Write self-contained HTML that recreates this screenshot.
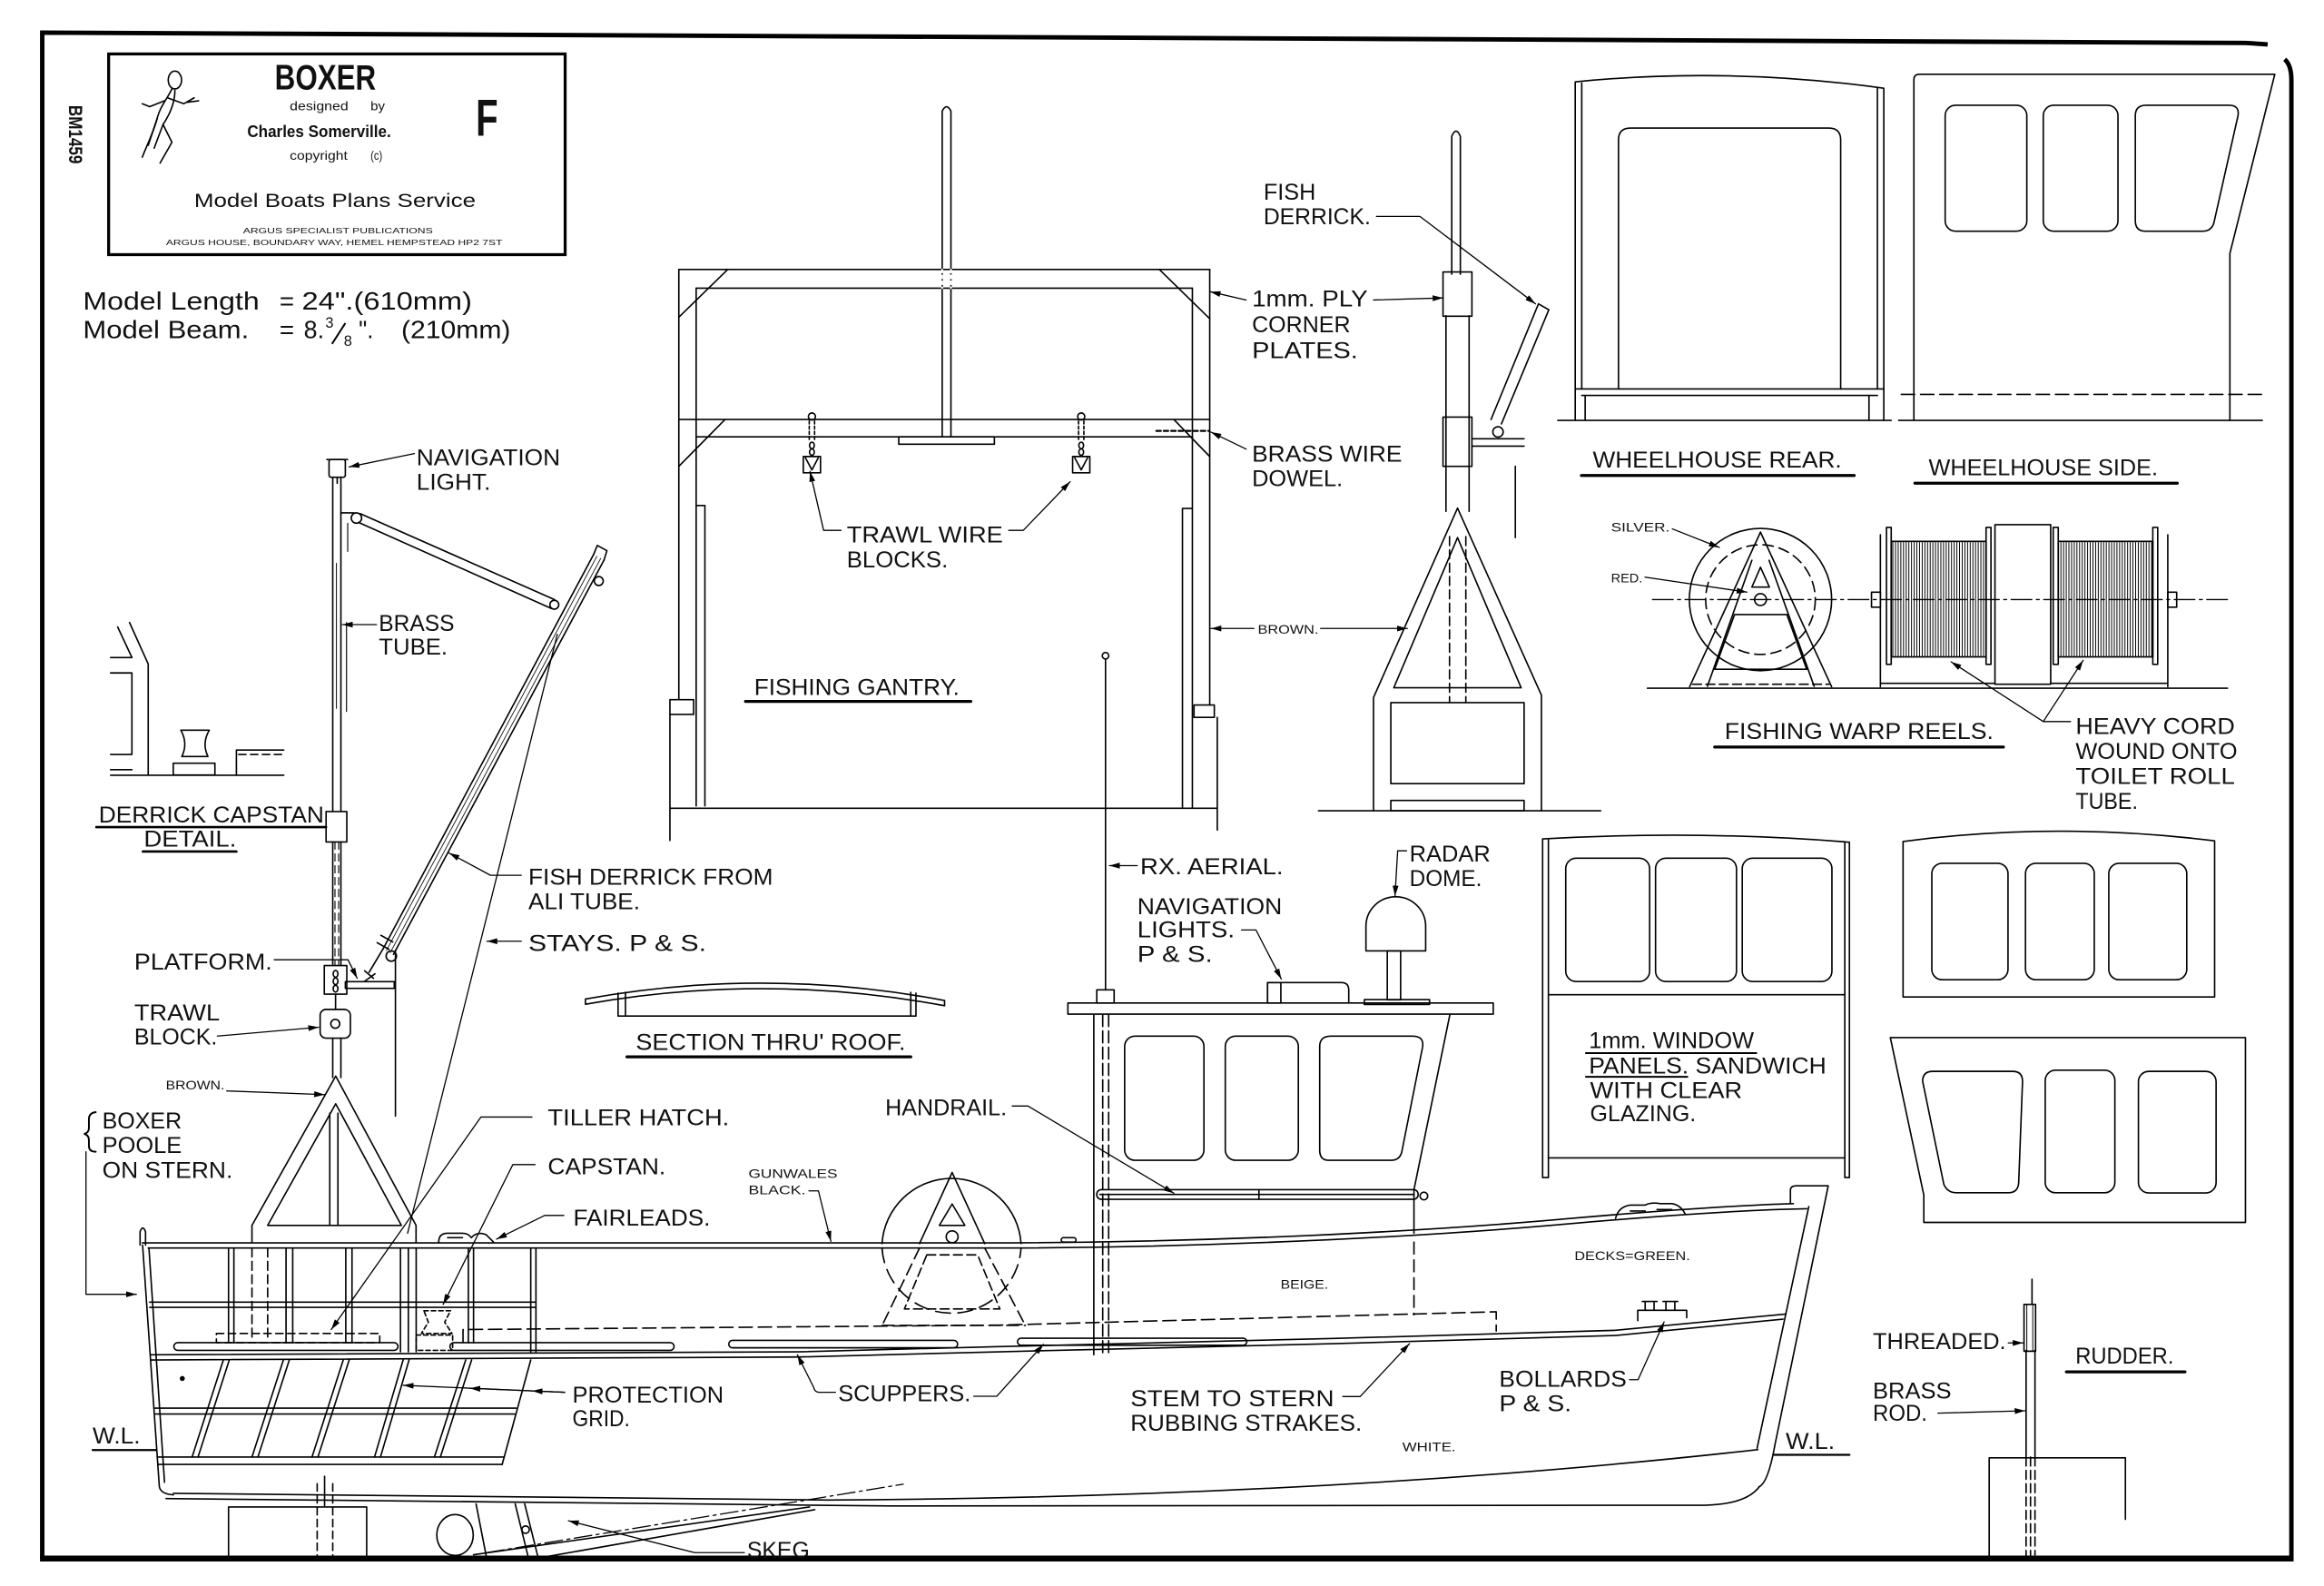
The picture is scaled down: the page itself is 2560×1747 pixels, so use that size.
<!DOCTYPE html>
<html><head><meta charset="utf-8">
<style>
html,body{margin:0;padding:0;background:#fff;}
svg{display:block;}
text{font-family:"Liberation Sans",sans-serif;fill:#111;}
</style></head><body>
<svg width="2560" height="1747" viewBox="0 0 1568 1070" preserveAspectRatio="none" xmlns="http://www.w3.org/2000/svg">
<defs>
<marker id="a" markerUnits="userSpaceOnUse" markerWidth="7" markerHeight="4" viewBox="0 0 7 4" refX="7" refY="2" orient="auto"><path d="M0,0L7,2L0,4z" fill="#000"/></marker>
<pattern id="h" width="1.8" height="10" patternUnits="userSpaceOnUse"><line x1="0.9" y1="0" x2="0.9" y2="10" stroke="#000" stroke-width="0.6"/></pattern>
</defs>
<rect width="1568" height="1070" fill="#fff"/>

<!-- FRAME -->
<g fill="none" stroke="#000">
<path d="M28.5,1051.5 V22 L1515,29 Q1524,29.5 1530,30" stroke-width="3"/>
<path d="M1541.5,40 Q1546,44 1546,54 V1051.5" stroke-width="3"/>
<path d="M27,1051.5 H1547.5" stroke-width="4"/>
<rect x="73.3" y="36.4" width="308" height="135.4" stroke-width="2"/>
</g>

<!-- TITLE BLOCK -->
<g fill="none" stroke="#000" stroke-width="1" stroke-linecap="round">
<ellipse cx="118" cy="54" rx="4.5" ry="6"/>
<path d="M116,60 C112,68 108,72 106,80 C104,88 100,96 96,106"/>
<path d="M118,61 C118,70 114,78 110,84 L116,96 L108,110"/>
<path d="M113,66 L124,70 L131,66 M126,69 L134,68"/>
<path d="M111,68 L101,72 L96,70"/>
<path d="M106,80 L100,98 M110,84 L104,100"/>
</g>
<text x="185.4" y="60.4" font-size="24" font-weight="bold" textLength="68.3" lengthAdjust="spacingAndGlyphs">BOXER</text>
<text x="195.5" y="74.5" font-size="8.5" fill="#333" textLength="39.5" lengthAdjust="spacingAndGlyphs">designed</text>
<text x="250" y="74.5" font-size="8.5" fill="#333" textLength="9.7" lengthAdjust="spacingAndGlyphs">by</text>
<text x="166.8" y="92.6" font-size="11.5" font-weight="bold" textLength="97" lengthAdjust="spacingAndGlyphs">Charles Somerville.</text>
<text x="321" y="91.6" font-size="35" font-weight="bold" textLength="15" lengthAdjust="spacingAndGlyphs">F</text>
<text x="195.5" y="107.8" font-size="8.5" fill="#333" textLength="39" lengthAdjust="spacingAndGlyphs">copyright</text>
<text x="250" y="107.8" font-size="8.5" fill="#333" textLength="8" lengthAdjust="spacingAndGlyphs">(c)</text>
<text x="131" y="139.5" font-size="13" fill="#333" textLength="190" lengthAdjust="spacingAndGlyphs">Model Boats Plans Service</text>
<text x="164" y="157.5" font-size="5" fill="#555" textLength="128" lengthAdjust="spacingAndGlyphs">ARGUS SPECIALIST PUBLICATIONS</text>
<text x="112" y="165.5" font-size="5" fill="#555" textLength="227" lengthAdjust="spacingAndGlyphs">ARGUS HOUSE, BOUNDARY WAY, HEMEL HEMPSTEAD HP2 7ST</text>
<text transform="translate(46.5,71) rotate(90)" font-size="13" font-weight="bold" textLength="39.5" lengthAdjust="spacingAndGlyphs">BM1459</text>

<g font-size="17">
<text x="56" y="209" textLength="119" lengthAdjust="spacingAndGlyphs">Model Length</text>
<text x="188.6" y="209">=</text>
<text x="203.7" y="209" textLength="114.8" lengthAdjust="spacingAndGlyphs">24".(610mm)</text>
<text x="56" y="228" textLength="112" lengthAdjust="spacingAndGlyphs">Model Beam.</text>
<text x="188.6" y="228">=</text>
<text x="205" y="228" textLength="13.7" lengthAdjust="spacingAndGlyphs">8.</text>
<text x="219.5" y="221" font-size="10">3</text>
<text x="232" y="233.5" font-size="10">8</text>
<text x="242" y="228" textLength="10" lengthAdjust="spacingAndGlyphs">".</text>
<text x="270.7" y="228" textLength="73.8" lengthAdjust="spacingAndGlyphs">(210mm)</text>
</g>
<path d="M224,232 L233,218" stroke="#000" stroke-width="1.2"/>

<!-- MAIN DRAWING LINES -->
<g fill="none" stroke="#000" stroke-width="1" stroke-linecap="round" stroke-linejoin="round">

<!-- FISHING GANTRY -->
<path d="M458,181.8 H816.2 M469.7,194.4 H804.5"/>
<path d="M458,181.8 V472 M469.7,194.4 V543.7 M475.6,341 V543.7 M469.7,341 H475.6"/>
<path d="M458,283 H816.2 M469.7,294.7 H804.5"/>
<path d="M491,181.8 L458,214 M782.2,181.8 L816.2,215 M489.2,283 L458,314.6 M792,283 L816.2,308"/>
<path d="M816.2,181.8 V475.6 M804.5,194.4 V545 M797.8,343 V545 M797.8,343 H804.5"/>
<rect x="452" y="472" width="16" height="10"/>
<rect x="805.6" y="475.6" width="13.7" height="8.4"/>
<path d="M452,482 V567 M821.3,484 V560 M452,545.3 H821.3"/>
<path d="M635.7,294.7 V75 Q638.6,69 641.6,75 V294.7"/>
<path d="M635.7,181.8 V194.4 M641.6,181.8 V194.4" stroke-dasharray="2 2" stroke="#fff" stroke-width="1.2"/>
<rect x="606.4" y="294.7" width="64.5" height="5"/>
<!-- trawl blocks -->
<g>
<circle cx="547.8" cy="281" r="2.4"/>
<path d="M546,284 V297 M549.6,284 V297" stroke-dasharray="2 1.5"/>
<ellipse cx="547.8" cy="300.5" rx="1.6" ry="2.2"/><ellipse cx="547.8" cy="305" rx="1.6" ry="2.2"/>
<rect x="542" y="308" width="11.6" height="11"/>
<path d="M543.5,309 L547.8,317 L552,309"/>
<circle cx="729.5" cy="281" r="2.4"/>
<path d="M727.7,284 V297 M731.3,284 V297" stroke-dasharray="2 1.5"/>
<ellipse cx="729.5" cy="300.5" rx="1.6" ry="2.2"/><ellipse cx="729.5" cy="305" rx="1.6" ry="2.2"/>
<rect x="723.7" y="308" width="11.6" height="11"/>
<path d="M725.2,309 L729.5,317 L733.7,309"/>
</g>
<path d="M567.4,357.8 H555.7 L546.5,318" stroke-width="0.8" marker-end="url(#a)"/>
<path d="M680.6,357.8 H690.4 L722,325" stroke-width="0.8" marker-end="url(#a)"/>
<path d="M840.8,202.4 L816.5,196.8" stroke-width="0.8" marker-end="url(#a)"/>
<path d="M926.7,202.4 L973.6,201" stroke-width="0.8" marker-end="url(#a)"/>
<path d="M840.8,303 L817,291.5" stroke-width="0.8" marker-end="url(#a)"/>
<path d="M780.2,290.7 H815.4" stroke-dasharray="3 2" stroke-width="1.4"/>
<path d="M846,424 H817" stroke-width="0.8" marker-end="url(#a)"/>
<path d="M891,424 H949.5" stroke-width="0.8" marker-end="url(#a)"/>
<path d="M503,473.2 H655" stroke-width="2"/>

<!-- GANTRY SIDE VIEW -->
<path d="M979.5,185 V92 Q982.4,85 985.3,92 V185"/>
<path d="M975.6,213 V345 M991.2,213 V345"/>
<path d="M978,362 V474 M989,362 V474" stroke-dasharray="6 3"/>
<rect x="973.6" y="183.5" width="19.5" height="29.8"/>
<rect x="973.6" y="281.4" width="19.5" height="33.2"/>
<path d="M993,296 H1028.3 M993,301 H1028.3"/>
<circle cx="1010.7" cy="291.4" r="3.5"/>
<path d="M1038,205 L1006,283 M1045,209 L1013,286 M1038,205 L1045,209"/>
<path d="M1022.4,314.6 V362.7"/>
<path d="M926.7,547 V470.6 L983.4,342.8 L1040,469 V547"/>
<path d="M940.4,464 L983.4,362.7 L1026.3,464 Z"/>
<rect x="938.4" y="474" width="89.9" height="54.7"/>
<rect x="938.4" y="540" width="89.9" height="7"/>
<path d="M889.6,547 H1080"/>
<path d="M928.7,146 H958 L1036,205" stroke-width="0.8" marker-end="url(#a)"/>

<!-- WHEELHOUSE REAR -->
<path d="M1062.8,283.6 V55.2 Q1165,45 1271,59.5 V283.6"/>
<path d="M1067.2,262.4 V56 M1266.7,262.4 V59"/>
<path d="M1092,262.4 V94.4 Q1092,86.4 1100,86.4 H1233.9 Q1241.9,86.4 1241.9,94.4 V262.4"/>
<path d="M1062.8,262.4 H1271 M1067.2,266.8 H1266.7"/>
<path d="M1051,283.6 H1276 M1069.5,266.8 V283.6 M1261,266.8 V283.6"/>
<path d="M1067,320.8 H1251" stroke-width="2"/>

<!-- WHEELHOUSE SIDE -->
<path d="M1291.3,283.6 V54 Q1291.3,50.1 1295,50.1 H1534.8 L1504.5,171 V283.6"/>
<path d="M1281,283.6 H1526.4"/>
<path d="M1282.8,266.1 H1526.4" stroke-dasharray="9 4"/>
<rect x="1312.4" y="71" width="55.1" height="85" rx="7"/>
<rect x="1378.6" y="71" width="50.4" height="85" rx="7"/>
<path d="M1448,71 H1504 Q1511,71 1510,78 L1494,149 Q1492.8,156 1486,156 H1447.7 Q1440.7,156 1440.7,149 V78 Q1440.7,71 1448,71 Z"/>
<path d="M1292,326 H1469" stroke-width="2"/>

<!-- FISHING WARP REELS -->
<circle cx="1187.8" cy="404.5" r="48"/>
<circle cx="1187.8" cy="404.5" r="37" stroke-dasharray="7 4"/>
<path d="M1140,463.3 L1187.8,359 L1235.8,463.3"/>
<path d="M1152,463 L1182,378 M1224,463 L1193.6,378"/>
<path d="M1187.8,382.7 L1182,396.1 H1193.8 Z"/>
<circle cx="1187.8" cy="404.5" r="4"/>
<path d="M1170.3,414.6 H1205.6 L1219,451.5 H1156.9 Z"/>
<path d="M1142,461.6 H1234" stroke-dasharray="6 3"/>
<path d="M1114.9,404.5 H1504.5" stroke-width="0.8" stroke-dasharray="14 3 2 3"/>
<path d="M1111.5,464.3 H1502.9"/>
<rect x="1276" y="365.2" width="64" height="78" fill="url(#h)"/>
<rect x="1388.7" y="365.2" width="63.8" height="78" fill="url(#h)"/>
<rect x="1272.8" y="355.8" width="3.2" height="92.4"/>
<rect x="1340" y="355.8" width="3.3" height="92.4"/>
<rect x="1385.3" y="355.8" width="3.4" height="92.4"/>
<rect x="1452.5" y="355.8" width="3.3" height="92.4"/>
<rect x="1346" y="354" width="37.6" height="107.6"/>
<path d="M1268.7,360.8 V463.3 M1462.6,360.8 V463.3 M1268.7,461 H1346 M1383.6,461 H1462.6"/>
<rect x="1262.7" y="399.5" width="6" height="10.1"/>
<rect x="1462.6" y="399.5" width="6" height="10.1"/>
<path d="M1128.3,356.8 L1160,369.3" stroke-width="0.8" marker-end="url(#a)"/>
<path d="M1109.9,389.4 L1178.7,399.5" stroke-width="0.8" marker-end="url(#a)"/>
<path d="M1397,486.8 H1378.6 L1316.4,446.5" stroke-width="0.8" marker-end="url(#a)"/>
<path d="M1378.6,486.8 L1405.5,445.5" stroke-width="0.8" marker-end="url(#a)"/>
<path d="M1156.9,504 H1351.7" stroke-width="2"/>

<!-- PANEL A -->
<path d="M1040.8,794.4 V566 Q1146,560 1247.8,568.2 V794.4"/>
<path d="M1044.7,794.4 V566.5 M1244.7,794.4 V568"/>
<path d="M1044.7,671.1 H1244.7 M1044.7,781.2 H1244.7 M1040.8,794.4 H1044.7 M1244.7,794.4 H1247.8"/>
<rect x="1056.4" y="579" width="56.6" height="83.2" rx="7"/>
<rect x="1117" y="579" width="54.6" height="83.2" rx="7"/>
<rect x="1175.5" y="579" width="60.5" height="83.2" rx="7"/>
<path d="M1070,710.5 H1185 M1070,726.5 H1138.5" stroke-width="1.2"/>

<!-- PANEL B -->
<path d="M1284,672.6 V567.7 Q1389,554 1494.2,567.3 V672.6 Z"/>
<rect x="1303.4" y="582.4" width="51.4" height="78.6" rx="7"/>
<rect x="1366.6" y="582.4" width="46.4" height="78.6" rx="7"/>
<rect x="1422.8" y="582.4" width="52.6" height="78.6" rx="7"/>

<!-- PANEL C -->
<path d="M1275.4,700 H1515 V824.7 H1298 V806.3 Z"/>
<path d="M1304,722.8 H1358 Q1364.6,722.8 1364.6,729.5 L1362,798 Q1361.5,804.7 1355,804.7 H1320 Q1314,804.7 1311.5,799 L1297.2,729.5 Q1297.2,722.8 1304,722.8 Z"/>
<rect x="1379.9" y="722" width="47" height="82.7" rx="7"/>
<rect x="1442.8" y="722.8" width="52.4" height="82" rx="7"/>

<!-- RUDDER -->
<path d="M1371,863 V880"/>
<rect x="1365.6" y="880" width="7.8" height="31.6"/>
<path d="M1367.5,880 V911 M1371.5,880 V911" stroke-width="0.6"/>
<path d="M1367,911 V983 M1373,911 V983"/>
<path d="M1367,983 V1050 M1373,983 V1050 M1370,983 V1050" stroke-dasharray="6 3"/>
<path d="M1342.1,1050 V983.5 H1434 V1025"/>
<path d="M1355,906 H1365" stroke-width="0.8" marker-end="url(#a)"/>
<path d="M1307.5,953.4 L1366.3,951.8" stroke-width="0.8" marker-end="url(#a)"/>
<path d="M1394.2,925.5 H1474.2" stroke-width="2"/>

<!-- DERRICK CAPSTAN DETAIL -->
<path d="M79.4,423 L89,443.6 M87.4,420 L100,448 V522.3"/>
<path d="M74.6,443.6 H89 M74.6,454 H89 V509 H74.6 M74.6,519.3 H89"/>
<path d="M74.6,523 H191.5"/>
<path d="M122,492.6 H141.2 Q136,501.5 140.3,510.4 H122.7 Q127,501.5 122,492.6 Z"/>
<rect x="116.9" y="514.9" width="28.1" height="8"/>
<path d="M159.5,523 V506 H191.5"/>
<path d="M161,509 H191.5" stroke-dasharray="5 3"/>
<path d="M65,558 H220" stroke-width="1.6"/>
<path d="M96.4,574.5 H159.5" stroke-width="1.6"/>

<!-- MAST & DERRICK -->
<rect x="222" y="310" width="11" height="12" rx="1.5"/>
<path d="M220.5,310 H234.5 M227.5,322 V326"/>
<path d="M224.5,322 V547.5 M230,322 V547.5"/>
<path d="M227,380 V478" stroke-width="0.6"/>
<path d="M234.6,353 V372 M233.8,420 V480" stroke-width="0.7"/>
<path d="M230,346 H239"/>
<circle cx="240.5" cy="349.5" r="3.5"/>
<path d="M243,346.5 L374,404.5 M242,352.5 L372,410.5"/>
<circle cx="374" cy="408" r="3"/>
<rect x="220" y="547.5" width="14" height="20.5"/>
<path d="M224.5,568 V651.4 M230,568 V651.4"/>
<path d="M226,568 V651 M228.5,568 V651" stroke-dasharray="5 3" stroke-width="0.7"/>
<rect x="218.8" y="651.4" width="15.2" height="19.3"/>
<ellipse cx="226.4" cy="657" rx="1.6" ry="2.3"/><ellipse cx="226.4" cy="662" rx="1.6" ry="2.3"/><ellipse cx="226.4" cy="667" rx="1.6" ry="2.3"/>
<path d="M226.4,670.7 V681"/>
<rect x="216" y="681" width="20.4" height="19.4" rx="4"/>
<circle cx="226.2" cy="690.7" r="3"/>
<path d="M224.5,700.4 V727 M230,700.4 V727"/>
<rect x="233" y="662.3" width="33" height="4.5"/>
<path d="M266.8,641 V753"/>
<path d="M407.5,377.9 L265.5,643.9 M400.5,374.1 L258.5,640.1"/>
<path d="M405.3,376.7 L263.3,642.7 M402.7,375.3 L260.7,641.3" stroke-width="0.5"/>
<path d="M400.5,374.1 L403,368 L409.5,371.5 L407.5,377.9"/>
<circle cx="404" cy="392" r="3"/>
<path d="M257,631 L265,635.5 M254.5,636 L262.5,640.5"/>
<circle cx="264" cy="645" r="3.5"/>
<path d="M258.5,640.1 L249,656 M252,660 L246,655 M246,662 L253,657"/>
<path d="M376,428 L275,832" stroke-width="0.8"/>
<path d="M279.6,306 L235.5,315" stroke-width="0.8" marker-end="url(#a)"/>
<path d="M254,421.4 H231" stroke-width="0.8" marker-end="url(#a)"/>
<path d="M351.7,590.5 H330.9 L303,575.5" stroke-width="0.8" marker-end="url(#a)"/>
<path d="M351.7,635 H328.5" stroke-width="0.8" marker-end="url(#a)"/>
<path d="M185,647.5 H234.8 L241,660" stroke-width="0.8" marker-end="url(#a)"/>
<path d="M146.7,699 L215,693" stroke-width="0.8" marker-end="url(#a)"/>
<path d="M153,736 L219,738.5" stroke-width="0.8" marker-end="url(#a)"/>

<!-- SECTION THRU ROOF -->
<path d="M395,674 Q516,652 637.3,675 M395,677.5 Q516,656 637.3,678.5 M395,674 V677.5 M637.3,675 V678.5"/>
<path d="M417,670 V685.5 M422,669.5 V685.5 M614.5,669.5 V685.5 M618,670 V685.5 M417,685.5 H618"/>
<path d="M423,713 H614.5" stroke-width="2"/>

<!-- HULL -->
<path d="M94.5,840 V831 Q96.3,826 98.2,831 V840"/>
<path d="M96,838.5 L680,838.5 C820,838 960,831 1060,822 C1140,815 1190,812.5 1210,812"/>
<path d="M100,842 L680,842 C820,841.5 960,834.5 1060,825.5 C1140,818.5 1190,816 1219,815.5"/>
<path d="M96.2,840 L107.5,1003 Q108.5,1008 117,1008.5"/>
<path d="M100.5,842 L111,1000"/>
<path d="M117,1007.5 L560,1012 Q900,1010 1186,978"/>
<path d="M112,1011 L600,1016 L1150,1015.5 Q1178,1015 1187,1003"/>
<path d="M1208,812 V803 Q1208,800 1212,800 H1233.5 L1197.5,975 Q1193,1000 1187,1003"/>
<path d="M1220.4,814 L1185.5,977"/>
<path d="M101.5,914 L539,912 L674,908.5 L900,903 L1090,897.5 L1205,886.5"/>
<path d="M102,917.5 L539,915.5 L674,912 L900,906.5 L1090,901 L1203,890"/>
<path d="M312.4,905.8 V897 L674,894 L1009.5,885 V898" stroke-dasharray="9 4"/>
<rect x="117.3" y="905.8" width="151.2" height="5.2" rx="2.6"/>
<rect x="303.6" y="905.8" width="151.2" height="5.2" rx="2.6"/>
<rect x="491.7" y="904.3" width="154.4" height="5" rx="2.5"/>
<rect x="686.5" y="902.8" width="154.7" height="4.8" rx="2.4"/>
<!-- stanchions -->
<path d="M154.2,842 V906 M157.8,842 V906 M193,842 V906 M197.5,842 V906 M233.3,842 V906 M237.5,842 V906 M270.2,842 V912 M275.5,842 V912 M280.8,842 V912 M316,842 V906 M319.5,842 V906 M358.1,842 V912 M361.6,842 V912"/>
<path d="M101,878.5 H361.6 M101,882 H361.6"/>
<path d="M170,842 V905 M180.6,842 V905" stroke-dasharray="6 3"/>
<rect x="146" y="899.6" width="110.2" height="6.2" stroke-dasharray="5 3"/>
<path d="M286,884.3 H304 L300,892 L305,899.6 H284.3 L289,892 Z" stroke-dasharray="3 2"/>
<rect x="280.8" y="900.7" width="24.6" height="10.3" stroke-dasharray="3 2"/>
<!-- grid -->
<path d="M358.1,917.5 L338.8,988"/>
<path d="M104.5,950 L348.3,950 M104.7,954 L347.2,954 M106,983 L340.2,983 M106.5,988 L338.8,988"/>
<path d="M150.7,917.5 L129.6,983 M154.7,917.5 L133.6,983 M191.2,917.5 L170,983 M195.2,917.5 L174,983 M231.6,917.5 L210.5,983 M235.6,917.5 L214.5,983 M272,917.5 L252.7,983 M276,917.5 L256.7,983 M314.2,917.5 L293.1,983 M318.2,917.5 L297.1,983"/>
<circle cx="123" cy="930" r="1.2" fill="#000"/>
<!-- A-frame stern -->
<path d="M170,838 V826.7 L226.5,726 L280.7,826.7 V838"/>
<path d="M180.6,826.7 L226.5,744.7 L270.8,826.7 Z"/>
<path d="M222.5,751 V826.7 M228,751 V826.7"/>
<!-- fairlead stern -->
<path d="M296,838 Q296,832 302,832 H312 Q316,832 318,835 Q322,830.5 328,833 L333,838"/>
<path d="M302,835 H312"/>
<!-- deck reel -->
<path d="M595.1,839 A47,47 0 0 1 688.9,839"/>
<path d="M595.1,842 A47,47 0 0 0 688.9,842" stroke-dasharray="10 5"/>
<path d="M620.4,839 L642.4,791 L664.4,839"/>
<path d="M620.4,842 L595.2,894.2 M664.4,842 L691.8,894.2 M595.2,894.2 H691.8" stroke-dasharray="8 4"/>
<path d="M642.4,812.3 L633.8,826.7 H651 Z"/>
<circle cx="642.4" cy="834.4" r="4"/>
<path d="M625.3,846.6 H659.6 L674.6,883.1 H610.2 Z" stroke-dasharray="6 3"/>
<rect x="716" y="835" width="10" height="3" rx="1.5"/>
<!-- wheelhouse on hull -->
<rect x="720.5" y="676.7" width="287" height="7.5"/>
<path d="M738,684.5 V914"/>
<path d="M744,684.5 V914 M748,684.5 V914" stroke-dasharray="8 3"/>
<path d="M978.3,684.2 L954,802.6 V832"/>
<path d="M954,838 V887" stroke-dasharray="8 4"/>
<rect x="758.8" y="699" width="53.5" height="83.8" rx="7"/>
<rect x="826.7" y="699" width="49.3" height="83.8" rx="7"/>
<path d="M898,699 H953 Q961,699 959.8,706.5 L946,776 Q945,782.8 938.5,782.8 H896.5 Q890.4,782.8 890.4,776 V706 Q890.4,699 898,699 Z"/>
<rect x="740" y="802.6" width="216.8" height="6.5" rx="3"/>
<path d="M742,805.8 H954 M849.4,802.6 V809.1"/>
<circle cx="960.7" cy="806.9" r="2.6"/>
<path d="M745.9,444.6 V667.8"/>
<circle cx="745.9" cy="442.4" r="2.2"/>
<rect x="740" y="667.8" width="11.7" height="8.9"/>
<path d="M855.2,676.7 V662.9 H905 Q910,662.9 910,668 V676.7"/>
<rect x="855.2" y="662.9" width="9" height="13.8"/>
<path d="M921.6,641.5 V625 A20.15,20 0 0 1 961.9,625 V641.5 Z"/>
<rect x="936" y="641.5" width="9" height="33"/>
<rect x="920.5" y="674.4" width="44" height="3.3"/>
<!-- bow fittings -->
<path d="M1090,822 Q1092,814 1100,813 H1110 Q1114,811 1120,812 H1128 Q1134,813 1137,819"/>
<path d="M1100,817 H1110 M1118,816 H1128"/>
<path d="M1105,891 V884 H1138 V889 M1110,884 V878 M1116,884 V878 M1108,878 H1118 M1124,884 V878 M1130,884 V878 M1122,878 H1132"/>
<!-- skeg / rudder area -->
<path d="M154.2,1051 V1016.7 H247.4 V1051"/>
<path d="M214,1001 V1051 M224.5,1001 V1051" stroke-dasharray="5 3"/>
<path d="M219,996 V1016"/>
<ellipse cx="307" cy="1035.6" rx="12.3" ry="13.8"/>
<path d="M321.2,1014.6 L328.2,1050.5 M347.6,1014.6 L356.4,1050.5 M354,1014.6 L363,1050.5"/>
<path d="M319.5,1048.9 L546.2,1016.7 M366.9,1050.5 L549.7,1018.5"/>
<path d="M328.2,1047.5 L609.4,1001.3" stroke-width="0.8" stroke-dasharray="12 3 2 3"/>
<circle cx="354.6" cy="1032" r="2.5"/>
<!-- hull leaders -->
<path d="M64.6,750.3 Q60,751 60,755 V761 Q60,764 57,765 Q60,766 60,769 V773 Q60,777 64.6,777" stroke-width="1.2"/>
<path d="M58,777 V873.2 H92" stroke-width="0.8" marker-end="url(#a)"/>
<path d="M358.9,753.6 H324.5 L223.5,897" stroke-width="0.8" marker-end="url(#a)"/>
<path d="M361,785.7 H346 L299,880" stroke-width="0.8" marker-end="url(#a)"/>
<path d="M380.4,820 H367.5 L335,836" stroke-width="0.8" marker-end="url(#a)"/>
<path d="M545.8,803.4 H552.2 L560.6,837.5" stroke-width="0.8" marker-end="url(#a)"/>
<path d="M683,746.2 H693.6 L792,805" stroke-width="0.8" marker-end="url(#a)"/>
<path d="M381,939.3 L359,938.4" stroke-width="0.8" marker-end="url(#a)"/>
<path d="M381,939.3 L317,936.6" stroke-width="0.8" marker-end="url(#a)"/>
<path d="M381,939.3 L272,934.6" stroke-width="0.8" marker-end="url(#a)"/>
<path d="M563.7,939.3 H553 Q549.7,939.3 549,936 L538,914" stroke-width="0.8" marker-end="url(#a)"/>
<path d="M657,942 H672.5 L704,907" stroke-width="0.8" marker-end="url(#a)"/>
<path d="M906,942.2 H917.7 L951,906.5" stroke-width="0.8" marker-end="url(#a)"/>
<path d="M1099.4,930.8 H1105.2 L1122.8,891.8" stroke-width="0.8" marker-end="url(#a)"/>
<path d="M767.3,584 H748.5" stroke-width="0.8" marker-end="url(#a)"/>
<path d="M837.7,627.4 H847.4 L864.5,660.5" stroke-width="0.8" marker-end="url(#a)"/>
<path d="M949,574 H943 L941.2,604.5" stroke-width="0.8" marker-end="url(#a)"/>
<path d="M502.2,1047.5 H468.8 L383.5,1026" stroke-width="0.8" marker-end="url(#a)"/>
<path d="M62.5,978.3 H105.4 M1197,981.5 H1247.8" stroke-width="1.4"/>
</g>

<!-- LABELS -->
<g font-size="15.5">
<text x="281" y="314" textLength="97" lengthAdjust="spacingAndGlyphs">NAVIGATION</text>
<text x="281" y="330.5" textLength="50" lengthAdjust="spacingAndGlyphs">LIGHT.</text>
<text x="255.6" y="425.8" textLength="51" lengthAdjust="spacingAndGlyphs">BRASS</text>
<text x="255.6" y="441.5" textLength="46.4" lengthAdjust="spacingAndGlyphs">TUBE.</text>
<text x="66.6" y="555" textLength="152" lengthAdjust="spacingAndGlyphs">DERRICK CAPSTAN</text>
<text x="97" y="571" textLength="62.5" lengthAdjust="spacingAndGlyphs">DETAIL.</text>
<text x="356.5" y="597" textLength="165" lengthAdjust="spacingAndGlyphs">FISH DERRICK FROM</text>
<text x="356.5" y="613.4" textLength="75.3" lengthAdjust="spacingAndGlyphs">ALI TUBE.</text>
<text x="356.5" y="641.6" textLength="120" lengthAdjust="spacingAndGlyphs">STAYS. P &amp; S.</text>
<text x="90.6" y="654" textLength="93" lengthAdjust="spacingAndGlyphs">PLATFORM.</text>
<text x="90.6" y="688.5" textLength="57.7" lengthAdjust="spacingAndGlyphs">TRAWL</text>
<text x="90.6" y="704.8" textLength="56" lengthAdjust="spacingAndGlyphs">BLOCK.</text>
<text x="69" y="761.3" textLength="53.6" lengthAdjust="spacingAndGlyphs">BOXER</text>
<text x="69" y="778" textLength="53.6" lengthAdjust="spacingAndGlyphs">POOLE</text>
<text x="69" y="794.6" textLength="88" lengthAdjust="spacingAndGlyphs">ON STERN.</text>
<text x="369.6" y="759.1" textLength="122.4" lengthAdjust="spacingAndGlyphs">TILLER HATCH.</text>
<text x="369.6" y="792.3" textLength="79.5" lengthAdjust="spacingAndGlyphs">CAPSTAN.</text>
<text x="386.8" y="826.7" textLength="92.4" lengthAdjust="spacingAndGlyphs">FAIRLEADS.</text>
<text x="597.3" y="752.5" textLength="82" lengthAdjust="spacingAndGlyphs">HANDRAIL.</text>
<text x="386.2" y="946.2" textLength="102" lengthAdjust="spacingAndGlyphs">PROTECTION</text>
<text x="386.2" y="962.3" textLength="38.8" lengthAdjust="spacingAndGlyphs">GRID.</text>
<text x="565.5" y="945.4" textLength="89.4" lengthAdjust="spacingAndGlyphs">SCUPPERS.</text>
<text x="762.7" y="948.8" textLength="137.4" lengthAdjust="spacingAndGlyphs">STEM TO STERN</text>
<text x="762.7" y="965.3" textLength="156.2" lengthAdjust="spacingAndGlyphs">RUBBING STRAKES.</text>
<text x="1011.5" y="935.7" textLength="86" lengthAdjust="spacingAndGlyphs">BOLLARDS</text>
<text x="1011.5" y="952.1" textLength="48.8" lengthAdjust="spacingAndGlyphs">P &amp; S.</text>
<text x="62.5" y="973.9" textLength="32.2" lengthAdjust="spacingAndGlyphs">W.L.</text>
<text x="1204.8" y="977.4" textLength="33.2" lengthAdjust="spacingAndGlyphs">W.L.</text>
<text x="504" y="1051" textLength="42.2" lengthAdjust="spacingAndGlyphs">SKEG</text>
<text x="769.3" y="589.9" textLength="96.5" lengthAdjust="spacingAndGlyphs">RX. AERIAL.</text>
<text x="767.3" y="616.8" textLength="97.7" lengthAdjust="spacingAndGlyphs">NAVIGATION</text>
<text x="767.3" y="632.3" textLength="65.7" lengthAdjust="spacingAndGlyphs">LIGHTS.</text>
<text x="767.3" y="649" textLength="50.8" lengthAdjust="spacingAndGlyphs">P &amp; S.</text>
<text x="951" y="581.3" textLength="54.6" lengthAdjust="spacingAndGlyphs">RADAR</text>
<text x="951" y="597.8" textLength="48.8" lengthAdjust="spacingAndGlyphs">DOME.</text>
<text x="429" y="708.2" textLength="182" lengthAdjust="spacingAndGlyphs">SECTION THRU' ROOF.</text>
<text x="508.8" y="469" textLength="138.6" lengthAdjust="spacingAndGlyphs">FISHING GANTRY.</text>
<text x="571.3" y="366" textLength="105.4" lengthAdjust="spacingAndGlyphs">TRAWL WIRE</text>
<text x="571.3" y="382.7" textLength="68.3" lengthAdjust="spacingAndGlyphs">BLOCKS.</text>
<text x="844.7" y="206.7" textLength="78.1" lengthAdjust="spacingAndGlyphs">1mm. PLY</text>
<text x="844.7" y="224.3" textLength="66.4" lengthAdjust="spacingAndGlyphs">CORNER</text>
<text x="844.7" y="241.6" textLength="71.5" lengthAdjust="spacingAndGlyphs">PLATES.</text>
<text x="844.7" y="311.3" textLength="101.3" lengthAdjust="spacingAndGlyphs">BRASS WIRE</text>
<text x="844.7" y="327.9" textLength="61.3" lengthAdjust="spacingAndGlyphs">DOWEL.</text>
<text x="852.5" y="134.7" textLength="35.2" lengthAdjust="spacingAndGlyphs">FISH</text>
<text x="852.5" y="151.3" textLength="72.3" lengthAdjust="spacingAndGlyphs">DERRICK.</text>
<text x="1074.6" y="315.5" textLength="168" lengthAdjust="spacingAndGlyphs">WHEELHOUSE REAR.</text>
<text x="1301.3" y="320.5" textLength="154.6" lengthAdjust="spacingAndGlyphs">WHEELHOUSE SIDE.</text>
<text x="1163.6" y="498.6" textLength="181.4" lengthAdjust="spacingAndGlyphs">FISHING WARP REELS.</text>
<text x="1400.4" y="495.2" textLength="107.5" lengthAdjust="spacingAndGlyphs">HEAVY CORD</text>
<text x="1400.4" y="512" textLength="109.2" lengthAdjust="spacingAndGlyphs">WOUND ONTO</text>
<text x="1400.4" y="528.8" textLength="107.5" lengthAdjust="spacingAndGlyphs">TOILET ROLL</text>
<text x="1400.4" y="545.6" textLength="42" lengthAdjust="spacingAndGlyphs">TUBE.</text>
<text x="1072" y="707.2" textLength="111.4" lengthAdjust="spacingAndGlyphs">1mm. WINDOW</text>
<text x="1072" y="724.3" textLength="160.2" lengthAdjust="spacingAndGlyphs">PANELS. SANDWICH</text>
<text x="1072.8" y="740.8" textLength="102.7" lengthAdjust="spacingAndGlyphs">WITH CLEAR</text>
<text x="1072.8" y="756.5" textLength="71.5" lengthAdjust="spacingAndGlyphs">GLAZING.</text>
<text x="1263.6" y="910" textLength="89.8" lengthAdjust="spacingAndGlyphs">THREADED.</text>
<text x="1263.6" y="943.4" textLength="53" lengthAdjust="spacingAndGlyphs">BRASS</text>
<text x="1263.6" y="958.4" textLength="36.7" lengthAdjust="spacingAndGlyphs">ROD.</text>
<text x="1400.3" y="920" textLength="66.3" lengthAdjust="spacingAndGlyphs">RUDDER.</text>
</g>
<g font-size="8.5">
<text x="111.9" y="735" textLength="39.6" lengthAdjust="spacingAndGlyphs">BROWN.</text>
<text x="505" y="794.6" textLength="60" lengthAdjust="spacingAndGlyphs">GUNWALES</text>
<text x="505" y="805.6" textLength="38.6" lengthAdjust="spacingAndGlyphs">BLACK.</text>
<text x="946.2" y="979.1" textLength="36" lengthAdjust="spacingAndGlyphs">WHITE.</text>
<text x="864" y="869.3" textLength="32.2" lengthAdjust="spacingAndGlyphs">BEIGE.</text>
<text x="1062.3" y="850.2" textLength="78" lengthAdjust="spacingAndGlyphs">DECKS=GREEN.</text>
<text x="848.6" y="427.5" textLength="41" lengthAdjust="spacingAndGlyphs">BROWN.</text>
<text x="1087" y="358.5" textLength="39.6" lengthAdjust="spacingAndGlyphs">SILVER.</text>
<text x="1087" y="392.8" textLength="21.2" lengthAdjust="spacingAndGlyphs">RED.</text>
</g>
</svg>
</body></html>
